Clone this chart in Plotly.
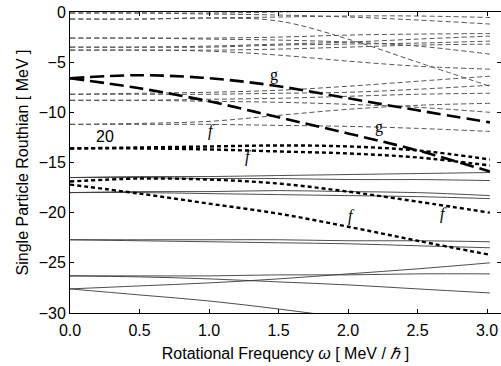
import plotly.graph_objects as go

omega = [0.0, 0.5, 1.0, 1.5, 2.0, 2.5, 3.02]

# thin dashed levels
dashed_levels = [
    [-0.1, -0.1, -0.1, 0.0, 0.2, 0.5, 0.8],
    [-0.1, -0.1, -0.2, -0.3, -0.5, -0.8, -1.2],
    [-0.7, -0.7, -0.6, -0.5, -0.4, -0.4, -0.55],
    [-0.7, -0.7, -0.6, -0.9, -2.7, -5.0, -7.4],
    [-2.6, -2.6, -2.6, -2.5, -2.3, -2.2, -2.15],
    [-2.6, -2.6, -2.7, -2.8, -3.0, -3.4, -4.2],
    [-3.5, -3.5, -3.4, -3.2, -3.0, -2.7, -2.4],
    [-3.5, -3.5, -3.5, -3.3, -3.2, -3.1, -2.9],
    [-3.8, -3.8, -3.8, -3.7, -3.5, -3.3, -3.2],
    [-3.8, -3.8, -3.9, -4.3, -4.9, -5.4, -5.7],
    [-8.2, -8.1, -8.0, -7.8, -7.4, -6.9, -6.4],
    [-8.2, -8.2, -8.2, -8.1, -8.0, -7.7, -7.3],
    [-8.8, -8.8, -8.7, -8.6, -8.4, -8.2, -8.1],
    [-8.8, -8.8, -8.9, -9.0, -9.2, -9.5, -10.0],
    [-11.2, -11.1, -10.9, -10.3, -9.7, -9.3, -9.1],
    [-11.2, -11.2, -11.2, -11.3, -11.4, -11.6, -11.9],
]

# thick long-dashed "g" levels
g_levels = [
    [-6.6, -6.3, -6.6, -7.4, -8.6, -9.8, -11.0],
    [-6.6, -7.6, -8.9, -10.5, -12.1, -13.8, -15.9],
]

# thick dotted "f" levels
f_levels = [
    [-13.6, -13.5, -13.4, -13.3, -13.4, -13.8, -14.7],
    [-13.6, -13.6, -13.7, -13.9, -14.1, -14.5, -15.3],
    [-16.9, -16.6, -16.7, -17.1, -17.9, -18.9, -20.0],
    [-17.2, -18.1, -19.1, -20.1, -21.4, -22.8, -24.2],
]

# thin solid levels
solid_levels = [
    [-16.5, -16.4, -16.4, -16.3, -16.2, -16.1, -16.0],
    [-16.5, -16.5, -16.6, -16.6, -16.7, -16.7, -16.8],
    [-18.0, -17.9, -17.9, -17.8, -17.9, -18.0, -18.3],
    [-18.0, -18.0, -18.1, -18.2, -18.3, -18.4, -18.6],
    [-22.7, -22.7, -22.7, -22.7, -22.8, -22.8, -22.9],
    [-22.7, -22.8, -22.9, -23.0, -23.1, -23.3, -23.5],
    [-26.3, -26.3, -26.3, -26.2, -26.2, -26.1, -26.1],
    [-26.3, -26.4, -26.6, -26.9, -27.2, -27.6, -28.0],
    [-27.6, -27.3, -27.0, -26.6, -26.1, -25.6, -25.0],
    [-27.6, -28.2, -28.8, -29.6, -30.5, -31.4, -32.3],
]

labels_text = ["20", "g", "g", "f", "f", "f", "f"]
labels_x = [0.25, 1.465, 2.225, 1.02, 1.285, 2.025, 2.685]
labels_y = [-12.4, -6.23, -11.5, -11.9, -14.5, -20.3, -20.1]

fig = go.Figure()

for lv in solid_levels:
    fig.add_trace(go.Scatter(x=omega, y=lv, mode="lines", line_shape="spline",
                             line=dict(color="#3a3a3a", width=0.9)))
for lv in dashed_levels:
    fig.add_trace(go.Scatter(x=omega, y=lv, mode="lines", line_shape="spline",
                             line=dict(color="#555555", width=1, dash="5px,3px")))
for lv in g_levels:
    fig.add_trace(go.Scatter(x=omega, y=lv, mode="lines", line_shape="spline",
                             line=dict(color="black", width=2.6, dash="14px,6px")))
for lv in f_levels:
    fig.add_trace(go.Scatter(x=omega, y=lv, mode="lines", line_shape="spline",
                             line=dict(color="black", width=2.4, dash="4px,3px")))

for t, x, y in zip(labels_text, labels_x, labels_y):
    if t == "20":
        font = dict(family="Liberation Sans, Arial, sans-serif", size=16, color="black")
        txt = t
    elif t == "f":
        font = dict(family="Liberation Serif, Times New Roman, serif", size=16, color="black")
        txt = "<i>f</i>"
    else:
        font = dict(family="Liberation Serif, Times New Roman, serif", size=16, color="black")
        txt = t
    fig.add_annotation(x=x, y=y, text=txt, showarrow=False, font=font,
                       xanchor="center", yanchor="middle")

axis_common = dict(
    showline=True, linecolor="black", linewidth=1, mirror="ticks",
    ticks="inside", ticklen=4, tickcolor="black", tickwidth=1,
    showgrid=False, zeroline=False,
    tickfont=dict(family="Liberation Sans, Arial, sans-serif", size=16, color="black"),
)

fig.update_xaxes(range=[0, 3.1], tickvals=[0, 0.5, 1.0, 1.5, 2.0, 2.5, 3.0],
                 ticktext=["0.0", "0.5", "1.0", "1.5", "2.0", "2.5", "3.0"],
                 ticklabelstandoff=3,
                 title=dict(text="Rotational Frequency <i>ω</i> [ MeV / <i>ℏ</i> ]",
                            font=dict(family="Liberation Sans, Arial, sans-serif", size=16, color="black"),
                            standoff=9),
                 **axis_common)
fig.update_yaxes(range=[-30, 0], tickvals=[0, -5, -10, -15, -20, -25, -30],
                 title=dict(text="Single Particle Routhian [ MeV ]",
                            font=dict(family="Liberation Sans, Arial, sans-serif", size=16, color="black"),
                            standoff=6),
                 **axis_common)

fig.update_layout(
    width=501, height=366,
    margin=dict(l=70, r=0, t=12, b=53),
    paper_bgcolor="white", plot_bgcolor="white",
    showlegend=False,
)

fig.write_html("out.html")
